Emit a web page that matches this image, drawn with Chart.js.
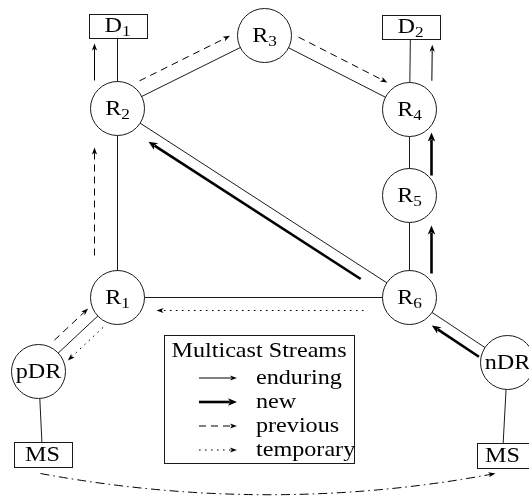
<!DOCTYPE html>
<html>
<head>
<meta charset="utf-8">
<script src="https://cdn.jsdelivr.net/npm/chart.js@4.4.1/dist/chart.umd.min.js"></script>
<style>
  html, body { margin: 0; padding: 0; background: #fff; }
  #wrap { width: 529px; height: 497px; }
</style>
</head>
<body>
<div id="wrap"><canvas id="net"></canvas></div>
<script>
// routers (circles)
const nodeIds  = ['R1', 'R2', 'R3', 'R4', 'R5', 'R6', 'pDR', 'nDR'];
const nodeMain = ['R', 'R', 'R', 'R', 'R', 'R', 'pDR', 'nDR'];
const nodeSub  = ['1', '2', '3', '4', '5', '6', '', ''];
const nodeX    = [117, 117, 264, 409, 409, 409, 38, 507];
const nodeY    = [297, 108, 35, 109, 195, 297, 371, 362];

// receivers / sources (boxes)
const boxIds  = ['D1', 'D2', 'MSp', 'MSn'];
const boxMain = ['D', 'D', 'MS', 'MS'];
const boxSub  = ['1', '2', '', ''];
const boxX    = [117, 410, 42, 502];
const boxY    = [25, 26, 454, 455];

// physical links
const linkFrom = ['R2', 'R4', 'R2', 'R3', 'R2', 'R2', 'R4', 'R5', 'R1', 'R1', 'R6', 'pDR', 'nDR'];
const linkTo   = ['D1', 'D2', 'R3', 'R4', 'R6', 'R1', 'R5', 'R6', 'R6', 'pDR', 'nDR', 'MSp', 'MSn'];

// multicast streams
const streamFrom = ['R2', 'R4', 'R2', 'R3', 'R6', 'R1', 'R5', 'R6', 'nDR', 'pDR', 'R1', 'R6'];
const streamTo   = ['D1', 'D2', 'R3', 'R4', 'R2', 'R2', 'R4', 'R5', 'R6', 'R1', 'pDR', 'R1'];
const streamKind = ['enduring', 'enduring', 'previous', 'previous', 'new', 'previous',
                    'new', 'new', 'new', 'previous', 'temporary', 'temporary'];

const legendTitle = 'Multicast Streams';
const legendKinds = ['enduring', 'new', 'previous', 'temporary'];

// ---- layout / styling ----
const FONT = '"Liberation Serif", "DejaVu Serif", serif';
const FSIZE = 21;
const STRETCH = 1.15;   // widen Times-like glyphs towards Computer Modern
const INK = '#1a1a1a';
const nodeRadius = 27;
const boxW = [58, 58, 58, 52];
const boxH = [24, 24, 25, 25];
// sideways shift of each stream and how far it stays off the two nodes
const streamShift = [-23, 22, -15, -14, -11, -23, 22, 22, -11, -12, -12, -13];
const streamTrim = [[28, 18], [29, 18], [32, 31], [31, 32], [51, 44], [42, 39],
                    [20, 23], [24, 30], [27, 34], [33, 29], [31, 29], [46, 39]];
const kindStyle = {
  enduring:  { width: 1,   dash: [],         head: [7, 2.6] },
  new:       { width: 2.6, dash: [],         head: [9, 3.8] },
  previous:  { width: 1,   dash: [7, 5],     head: [7, 2.6] },
  temporary: { width: 1,   dash: [1.6, 4.4], head: [7, 2.6] },
};
const legendBox = { x: 164, y: 335, w: 190, h: 128 };

const allIds = nodeIds.concat(boxIds);
const allX = nodeX.concat(boxX);
const allY = nodeY.concat(boxY);
const pos = id => ({ x: allX[allIds.indexOf(id)], y: allY[allIds.indexOf(id)] });

const linkSets = linkFrom.map((f, i) => ({
  type: 'scatter',
  data: [pos(f), pos(linkTo[i])],
  showLine: true,
  borderColor: INK,
  borderWidth: 1,
  pointRadius: 0,
  order: 2,
}));

const nodeSet = {
  type: 'scatter',
  data: nodeIds.map((id, i) => ({ x: nodeX[i], y: nodeY[i] })),
  pointRadius: nodeRadius,
  pointBorderWidth: 1,
  pointBorderColor: INK,
  pointBackgroundColor: '#fff',
  order: 0,
};

// text drawn slightly stretched sideways
function text(ctx, str, x, y, size, align) {
  ctx.save();
  ctx.font = size + 'px ' + FONT;
  ctx.fillStyle = '#000';
  ctx.textAlign = 'left';
  ctx.textBaseline = 'alphabetic';
  const w = ctx.measureText(str).width * STRETCH;
  const x0 = align === 'center' ? x - w / 2 : x;
  ctx.translate(x0, y);
  ctx.scale(STRETCH, 1);
  ctx.fillText(str, 0, 0);
  ctx.restore();
  return w;
}

function measure(ctx, str, size) {
  ctx.font = size + 'px ' + FONT;
  return ctx.measureText(str).width * STRETCH;
}

function label(ctx, main, sub, cx, cy) {
  const subSize = Math.round(FSIZE * 0.72);
  const wm = measure(ctx, main, FSIZE);
  const ws = sub ? measure(ctx, sub, subSize) : 0;
  const x0 = cx - (wm + ws) / 2;
  const base = cy + FSIZE * 0.33;
  text(ctx, main, x0, base, FSIZE);
  if (sub) text(ctx, sub, x0 + wm, base + FSIZE * 0.16, subSize);
}

function arrow(ctx, sx, sy, ex, ey, style, ux, uy) {
  const len = Math.hypot(ex - sx, ey - sy);
  if (ux === undefined) { ux = (ex - sx) / len; uy = (ey - sy) / len; }
  const [hl, hw] = style.head;
  ctx.save();
  ctx.strokeStyle = '#000';
  ctx.fillStyle = '#000';
  ctx.lineWidth = style.width;
  ctx.setLineDash(style.dash);
  ctx.beginPath();
  ctx.moveTo(sx, sy);
  ctx.lineTo(ex - ux * hl * 0.8, ey - uy * hl * 0.8);
  ctx.stroke();
  ctx.setLineDash([]);
  ctx.beginPath();
  ctx.moveTo(ex, ey);
  ctx.lineTo(ex - ux * hl - uy * hw, ey - uy * hl + ux * hw);
  ctx.lineTo(ex - ux * hl * 0.75, ey - uy * hl * 0.75);
  ctx.lineTo(ex - ux * hl + uy * hw, ey - uy * hl - ux * hw);
  ctx.closePath();
  ctx.fill();
  ctx.restore();
}

const diagram = {
  id: 'diagram',
  afterDatasetsDraw(chart) {
    const ctx = chart.ctx;
    const xs = chart.scales.x, ys = chart.scales.y;
    const P = id => { const p = pos(id); return { x: xs.getPixelForValue(p.x), y: ys.getPixelForValue(p.y) }; };

    // boxes
    boxIds.forEach((id, i) => {
      const p = P(id);
      const x = Math.round(p.x - boxW[i] / 2) + 0.5, y = Math.round(p.y - boxH[i] / 2) + 0.5;
      ctx.save();
      ctx.fillStyle = '#fff';
      ctx.strokeStyle = INK;
      ctx.lineWidth = 1;
      ctx.fillRect(x, y, boxW[i], boxH[i]);
      ctx.strokeRect(x, y, boxW[i], boxH[i]);
      ctx.restore();
      label(ctx, boxMain[i], boxSub[i], p.x, p.y);
    });

    // node names
    nodeIds.forEach((id, i) => {
      const p = P(id);
      label(ctx, nodeMain[i], nodeSub[i], p.x, p.y);
    });

    // streams
    streamFrom.forEach((f, i) => {
      const a = P(f), b = P(streamTo[i]);
      const d = Math.hypot(b.x - a.x, b.y - a.y);
      const ux = (b.x - a.x) / d, uy = (b.y - a.y) / d;
      const nx = -uy, ny = ux;
      const s = streamShift[i], [t0, t1] = streamTrim[i];
      arrow(ctx,
        a.x + ux * t0 + nx * s, a.y + uy * t0 + ny * s,
        b.x - ux * t1 + nx * s, b.y - uy * t1 + ny * s,
        kindStyle[streamKind[i]]);
    });

    // dash-dot path between the two sources
    const m0 = P('MSp'), m1 = P('MSn');
    const sx = m0.x - 2, sy = m0.y + 19, ex = m1.x - 7, ey = m1.y + 18;
    const cx = (sx + ex) / 2, cy = Math.max(sy, ey) + 42;
    ctx.save();
    ctx.strokeStyle = '#000';
    ctx.lineWidth = 1;
    ctx.setLineDash([9, 4, 1.6, 4]);
    ctx.beginPath();
    ctx.moveTo(sx, sy);
    const tx = ex - cx, ty = ey - cy, tl = Math.hypot(tx, ty);
    ctx.quadraticCurveTo(cx, cy, ex - tx / tl * 5, ey - ty / tl * 5);
    ctx.stroke();
    ctx.restore();
    arrow(ctx, ex - tx / tl * 6, ey - ty / tl * 6, ex, ey, kindStyle.enduring, tx / tl, ty / tl);

    // legend
    const L = legendBox;
    ctx.save();
    ctx.fillStyle = '#fff';
    ctx.strokeStyle = INK;
    ctx.lineWidth = 1;
    ctx.fillRect(L.x + 0.5, L.y + 0.5, L.w, L.h);
    ctx.strokeRect(L.x + 0.5, L.y + 0.5, L.w, L.h);
    ctx.restore();
    text(ctx, legendTitle, L.x + L.w / 2, L.y + 22, FSIZE, 'center');
    legendKinds.forEach((k, i) => {
      const y = L.y + 43 + i * 24;
      arrow(ctx, L.x + 35, y, L.x + 73, y, kindStyle[k]);
      text(ctx, k, L.x + 92, y + 6, FSIZE);
    });
  }
};

new Chart(document.getElementById('net').getContext('2d'), {
  type: 'scatter',
  data: { datasets: linkSets.concat([nodeSet]) },
  options: {
    responsive: true,
    maintainAspectRatio: false,
    animation: false,
    events: [],
    layout: { padding: 0, autoPadding: false },
    plugins: { legend: { display: false }, tooltip: { enabled: false } },
    scales: {
      // half-pixel offset so whole-number positions land on pixel centres
      x: { type: 'linear', min: -0.5, max: 528.5, display: false },
      y: { type: 'linear', min: -0.5, max: 496.5, reverse: true, display: false },
    },
  },
  plugins: [diagram],
});
</script>
</body>
</html>
